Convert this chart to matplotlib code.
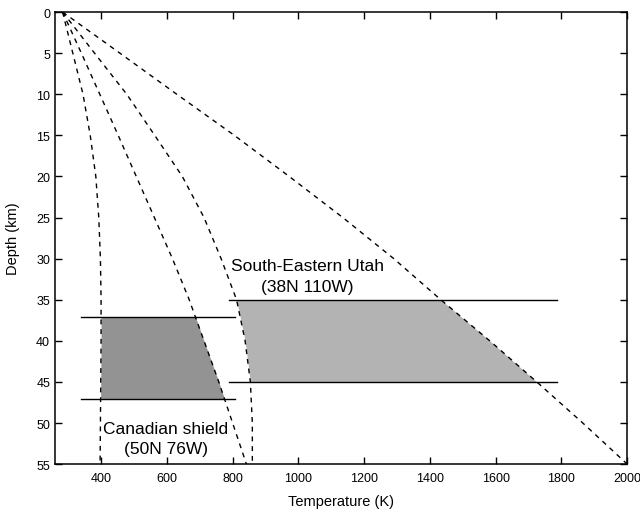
import numpy as np
import matplotlib
matplotlib.use("Agg")
import matplotlib.pyplot as plt

plt.rcParams['font.family'] = ['Liberation Sans', 'DejaVu Sans']

# Geotherms: temperature (K) at each depth (km)
depth = [0, 5, 10, 15, 20, 25, 30, 35, 40, 45, 50, 55]
geotherm_cold = [283, 314, 345, 367, 384, 393, 398, 400, 400, 399, 398, 397]
geotherm_shield = [283, 340, 396, 452, 507, 562, 617, 668, 713, 758, 800, 842]
geotherm_mid = [283, 380, 478, 563, 647, 713, 765, 812, 838, 854, 860, 860]
geotherm_hot = [283, 457, 630, 805, 972, 1135, 1290, 1433, 1582, 1725, 1865, 2000]

# Moho depth ranges (km) and extent of the marker lines (K)
shield_moho = [37.1, 47.1]
shield_line_x = [338, 806]
utah_moho = [35.0, 45.0]
utah_line_x = [788, 1786]

fig, ax = plt.subplots(figsize=(6.4, 5.1), dpi=100)
fig.subplots_adjust(left=0.086, right=0.98, top=0.9745, bottom=0.088)

dash = (0, (3.5, 3.5))
for curve in [geotherm_cold, geotherm_shield, geotherm_mid, geotherm_hot]:
    ax.plot(curve, depth, color='black', lw=1.0, linestyle=dash)

# Shaded bands between the geotherms
zz = np.linspace(shield_moho[0], shield_moho[1], 100)
ax.fill_betweenx(zz, np.interp(zz, depth, geotherm_cold), np.interp(zz, depth, geotherm_shield),
                 color='#939393', lw=0, zorder=1)
zz = np.linspace(utah_moho[0], utah_moho[1], 100)
ax.fill_betweenx(zz, np.interp(zz, depth, geotherm_mid), np.interp(zz, depth, geotherm_hot),
                 color='#b3b3b3', lw=0, zorder=1)

for d in shield_moho:
    ax.plot(shield_line_x, [d, d], color='black', lw=1.0)
for d in utah_moho:
    ax.plot(utah_line_x, [d, d], color='black', lw=1.0)

ax.text(1027, 31.4, "South-Eastern Utah", ha='center', va='baseline', fontsize=12.5)
ax.text(1027, 33.9, "(38N 110W)", ha='center', va='baseline', fontsize=12.5)
ax.text(596, 51.2, "Canadian shield", ha='center', va='baseline', fontsize=12.5)
ax.text(596, 53.6, "(50N 76W)", ha='center', va='baseline', fontsize=12.5)

ax.set_xlim(260, 2000)
ax.set_ylim(55, 0)
ax.set_xticks(range(400, 2001, 200))
ax.set_yticks(range(0, 56, 5))
ax.tick_params(direction='in', top=True, right=True, length=5, width=1, labelsize=9)
ax.tick_params(axis='x', pad=6)
for s in ax.spines.values():
    s.set_linewidth(1.1)

ax.set_xlabel("Temperature (K)", fontsize=10.5, labelpad=7)
ax.set_ylabel("Depth (km)", fontsize=10.5, labelpad=12)

plt.savefig("out.png", dpi=100)
